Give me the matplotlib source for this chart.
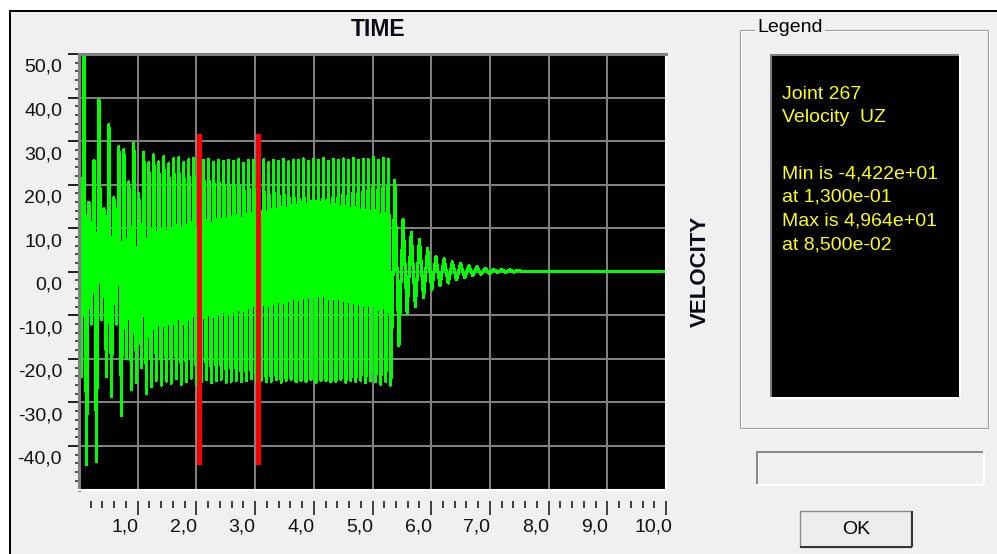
import numpy as np
import matplotlib
matplotlib.use("Agg")
import matplotlib.pyplot as plt
from matplotlib.patches import Rectangle
from matplotlib.lines import Line2D
from matplotlib.transforms import offset_copy

plt.rcParams['font.family'] = ['Liberation Sans', 'DejaVu Sans']

W, H = 997, 554

# ---------------- data ----------------
x_title = "TIME"
y_title = "VELOCITY"
x_limits = (0.0, 10.0)
y_limits = (-50.0, 50.0)
x_tick_values = [1, 2, 3, 4, 5, 6, 7, 8, 9, 10]
x_tick_labels = ["1,0", "2,0", "3,0", "4,0", "5,0", "6,0", "7,0", "8,0", "9,0", "10,0"]
x_minor_step = 0.2
y_tick_values = [50, 40, 30, 20, 10, 0, -10, -20, -30, -40]
y_tick_labels = ["50,0", "40,0", "30,0", "20,0", "10,0", "0,0", "-10,0", "-20,0", "-30,0", "-40,0"]
y_minor_step = 2

legend_title = "Legend"
legend_header = ["Joint 267", "Velocity  UZ"]
legend_stats = ["Min is -4,422e+01", "at 1,300e-01", "Max is 4,964e+01", "at 8,500e-02"]
button_text = "OK"

# velocity response: successive extremes (forced phase)
forced_start = 0.0
forced_half_period = 0.0425
forced_extremes = [
    0.0, -24.0, 49.6, -44.2, 16.0, -12.0, 25.5, -43.5, 39.5, -11.0,
    14.5, -24.0, 33.7, -28.6, 17.0, -12.0, 28.7, -33.0, 28.0, -20.0,
    20.6, -27.0, 29.5, -25.5, 18.0, -22.0, 27.4, -28.0, 25.0, -26.3,
    26.8, -24.9, 25.2, -26.0, 26.4, -25.1, 24.8, -25.6, 25.9, -24.6,
    26.2, -25.8, 25.0, -25.2, 25.7, -24.4, 26.0, -25.9, 24.6, -25.3,
    25.5, -24.8, 25.8, -25.5, 25.1, -25.0, 25.6, -24.7, 25.3, -25.4,
    25.6, -25.1, 25.4, -24.9, 25.7, -25.3, 24.9, -25.0, 25.6, -24.6,
    25.5, -25.2, 25.3, -24.9, 25.7, -25.3, 25.0, -25.1, 25.6, -24.8,
    25.4, -25.4, 25.8, -25.0, 25.2, -24.7, 25.6, -25.3, 25.5, -25.0,
    25.9, -25.2, 25.3, -24.8, 25.7, -25.4, 25.6, -25.0, 26.0, -24.9,
    25.4, -25.3, 25.8, -25.1, 25.5, -24.7, 25.9, -25.4, 25.6, -25.0,
    26.0, -25.2, 25.5, -24.9, 25.8, -25.5, 25.7, -25.0, 26.2, -25.3,
    25.6, -25.8, 26.0, -25.1, 25.8, -26.0,
]
# free-vibration decay after the load stops
decay_start = 5.38
decay_half_period = 0.07
decay_extremes = [
    21.0, -17.0, 12.0, -9.5, 9.0, -8.0, 7.5, -6.0, 5.4, -4.2,
    3.5, -3.2, 3.0, -2.6, 2.3, -1.9, 1.9, -1.4, 1.4, -0.9,
    1.1, -0.6, 0.8, -0.4, 0.6, -0.2, 0.5, -0.15, 0.45, -0.1,
    0.4, 0.0,
]
record_end = 10.0
rest_value = 0.0

marker_times = [2.036, 3.055]
marker_low = -44.2
marker_high = 31.6

# ---------------- series assembly ----------------
forced_t = forced_start + forced_half_period * np.arange(len(forced_extremes))
decay_t = decay_start + decay_half_period * np.arange(len(decay_extremes))
t = np.concatenate([forced_t, decay_t, [record_end]])
v = np.concatenate([forced_extremes, decay_extremes, [rest_value]])

# ---------------- figure ----------------
fig = plt.figure(figsize=(W / 100, H / 100), dpi=100, facecolor='#F0F0F0')

def fx(px):
    return px / W

def fy(py):
    return 1 - py / H

ax_left, ax_right, ax_top, ax_bottom = 79, 666, 54, 489.5
ax = fig.add_axes([fx(ax_left), fy(ax_bottom), (ax_right - ax_left) / W, (ax_bottom - ax_top) / H])
ax.set_facecolor('black')
ax.set_xlim(*x_limits)
ax.set_ylim(*y_limits)

# grid
ax.set_xticks(x_tick_values[:-1])
ax.tick_params(axis='x', which='both', length=0, labelbottom=False)
ax.set_yticks(y_tick_values)
y_minor = [y for y in np.arange(y_limits[0] + y_minor_step, y_limits[1], y_minor_step) if y % 10 != 0]
ax.set_yticks(y_minor, minor=True)
ax.tick_params(axis='y', which='major', direction='out', length=7.9, width=1.4,
               color='#202020', labelleft=False)
ax.tick_params(axis='y', which='minor', direction='out', length=2.6, width=1.2,
               color='#303030', labelleft=False)
ax.grid(True, which='major', color='#808080', linewidth=1.2, antialiased=False)
ax.set_axisbelow(True)

for s in ('top', 'left'):
    ax.spines[s].set_color('#808080')
    ax.spines[s].set_linewidth(2.2)
for s in ('bottom', 'right'):
    ax.spines[s].set_color('white')
    ax.spines[s].set_linewidth(1.5)

ax.plot(t, v, color='#00FF00', linewidth=1.5, antialiased=False, zorder=2)
ax.vlines(marker_times, marker_low, marker_high, colors='#FF0000', linewidth=3.6,
          antialiased=False, zorder=3)

# y tick labels
yt = offset_copy(ax.get_yaxis_transform(), fig=fig, x=-17, y=-5, units='dots')
for val, lab in zip(y_tick_values, y_tick_labels):
    ax.text(0, val, lab, transform=yt, ha='right', va='top', fontsize=14, color='#111111')

# detached x tick ruler
tick_y = 500.5
tax = fig.add_axes([fx(ax_left), fy(tick_y), (ax_right - ax_left) / W, 1e-5])
tax.set_xlim(*x_limits)
tax.set_yticks([])
for s in tax.spines.values():
    s.set_visible(False)
tax.patch.set_visible(False)
x_minor = [x for x in np.arange(x_minor_step, x_limits[1] + 1e-9, x_minor_step)
           if abs(x - round(x)) > 1e-6]
tax.set_xticks(x_tick_values)
tax.set_xticks(x_minor, minor=True)
tax.tick_params(axis='x', which='major', direction='out', length=10.3, width=1.2,
                color='#202020', labelbottom=False)
tax.tick_params(axis='x', which='minor', direction='out', length=4.8, width=1.2,
                color='#202020', labelbottom=False)
xt = offset_copy(tax.get_xaxis_transform(), fig=fig, x=-13, y=-18.5, units='dots')
for val, lab in zip(x_tick_values, x_tick_labels):
    tax.text(val, 0, lab, transform=xt, ha='center', va='top', fontsize=14, color='#111111')

# ---------------- window decorations (pixel overlay) ----------------
ov = fig.add_axes([0, 0, 1, 1], zorder=-1)
ov.set_xlim(0, W)
ov.set_ylim(H, 0)
ov.axis('off')

def line(xs, ys, color, px):
    ov.add_line(Line2D(xs, ys, color=color, linewidth=px * 0.72, solid_capstyle='butt',
                       antialiased=False))

ov.add_patch(Rectangle((0, 0), W, 10, fc='white', ec='none'))
ov.add_patch(Rectangle((0, 0), 9, H, fc='white', ec='none'))
line([9, W], [11, 11], 'black', 2)
line([10, 10], [10, H], 'black', 2)

ov.text(378.5, 29, x_title, ha='center', va='center', fontsize=16.5, fontweight='bold',
        color='#0a0a14')
ov.text(700, 271, y_title, ha='center', va='center', rotation=90, fontsize=16,
        fontweight='bold', color='#0a0a14')

# group box
ov.add_patch(Rectangle((741, 31), 248, 398, fill=False, ec='white', lw=0.8))
ov.add_patch(Rectangle((740, 30), 248, 398, fill=False, ec='#a0a0a0', lw=0.8))
ov.text(757, 28, legend_title, ha='left', va='center', fontsize=14, color='black',
        bbox=dict(fc='#F0F0F0', ec='none', pad=1.5))

# black legend panel
ov.add_patch(Rectangle((771, 55), 188, 342, fc='black', ec='none'))
line([770, 960], [55, 55], '#808080', 2)
line([771, 771], [54, 398], '#808080', 2)
line([770, 960], [397.5, 397.5], 'white', 2)
line([959.5, 959.5], [54, 398], 'white', 2)

header_y = [94.5, 118]
for yy, s in zip(header_y, legend_header):
    ov.text(782, yy, s, ha='left', va='center', fontsize=14, color='#FFFF00')
stats_y = [174, 197.5, 221, 244.5]
for yy, s in zip(stats_y, legend_stats):
    ov.text(782, yy, s, ha='left', va='center', fontsize=14, color='#FFFF00')

# progress box
line([756, 983], [451.5, 451.5], '#8a8a8a', 2)
line([756.5, 756.5], [451, 485], '#8a8a8a', 2)
line([756, 984], [484.5, 484.5], 'white', 2)
line([983.5, 983.5], [451, 485], 'white', 2)

# OK button
ov.add_patch(Rectangle((800, 511), 111, 36, fc='#EDEDED', ec='#8a8a8a', lw=1.0))
line([800, 912], [546.5, 546.5], '#333333', 2)
line([911.5, 911.5], [511, 547], '#333333', 2)
ov.text(856, 529, button_text, ha='center', va='center', fontsize=14, color='black')

fig.savefig('out.png', dpi=100, facecolor=fig.get_facecolor())
